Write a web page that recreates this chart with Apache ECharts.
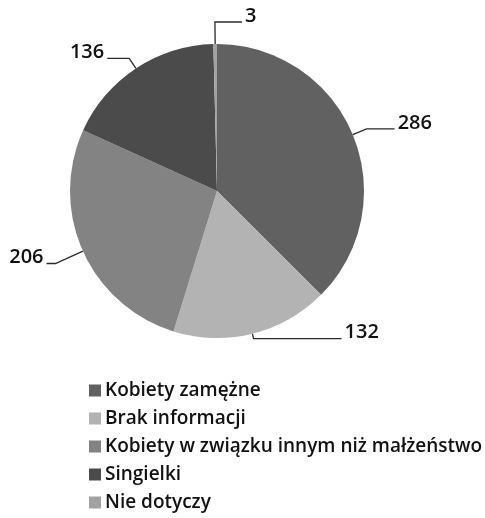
<!DOCTYPE html>
<html>
<head>
<meta charset="utf-8">
<script src="https://cdn.jsdelivr.net/npm/echarts@6/dist/echarts.min.js"></script>
<style>
  html, body { margin: 0; padding: 0; background: #fff; }
  #main { width: 485px; height: 518px; }
</style>
</head>
<body>
<div id="main"></div>
<script>
var categories = ['Kobiety zamężne', 'Brak informacji', 'Kobiety w związku innym niż małżeństwo', 'Singielki', 'Nie dotyczy'];
var values = [286, 132, 206, 136, 3];
var colors = ['#616161', '#b3b3b3', '#838383', '#4b4b4b', '#a2a2a2'];
// leader line lengths per slice [radial part, horizontal part]
var lineLens = [[15, 28], [5, 88], [30, 9], [12, 22], [22, 27]];

var chartDom = document.getElementById('main');
var myChart = echarts.init(chartDom);
var option;

var pieData = [];
for (var i = 0; i < categories.length; i++) {
  pieData.push({
    name: categories[i],
    value: values[i],
    itemStyle: { color: colors[i] },
    labelLine: { length: lineLens[i][0], length2: lineLens[i][1] }
  });
}

option = {
  animation: false,
  legend: {
    orient: 'vertical',
    left: 84,
    top: 376,
    height: 200,
    itemWidth: 12,
    itemHeight: 12,
    itemGap: 9,
    icon: 'rect',
    textStyle: {
      fontFamily: 'Open Sans',
      fontWeight: 600,
      fontSize: 19,
      color: '#111',
      padding: [0, 0, 0, -1]
    },
    data: categories
  },
  series: [
    {
      type: 'pie',
      center: [217, 191],
      radius: 147,
      startAngle: 90,
      clockwise: true,
      avoidLabelOverlap: false,
      label: {
        show: true,
        // empty second line lifts the number so it sits on top of the leader line
        formatter: function (p) { return '{v|' + p.value + '}\n{g|}'; },
        rich: {
          v: { fontFamily: 'Open Sans', fontWeight: 600, fontSize: 20, color: '#111', height: 20 },
          g: { height: 12 }
        },
        distanceToLabelLine: 3
      },
      labelLine: {
        show: true,
        lineStyle: { color: '#2a2a2a', width: 1.3 }
      },
      // the tiny last slice sits just left of 12 o'clock; flip its label to the right like the original
      labelLayout: function (params) {
        if (params.dataIndex !== values.length - 1) return;
        var pts = params.labelLinePoints;
        if (!pts || pts.length < 3) return;
        var p0 = pts[0], p1 = pts[1], p2 = pts[2];
        var len2 = Math.abs(p2[0] - p1[0]);
        var end = [p1[0] + len2, p1[1]];
        return {
          x: end[0] + 3,
          y: end[1],
          align: 'left',
          labelLinePoints: [[p0[0], p0[1]], [p1[0], p1[1]], end]
        };
      },
      data: pieData
    }
  ]
};

option && myChart.setOption(option);
</script>
</body>
</html>
